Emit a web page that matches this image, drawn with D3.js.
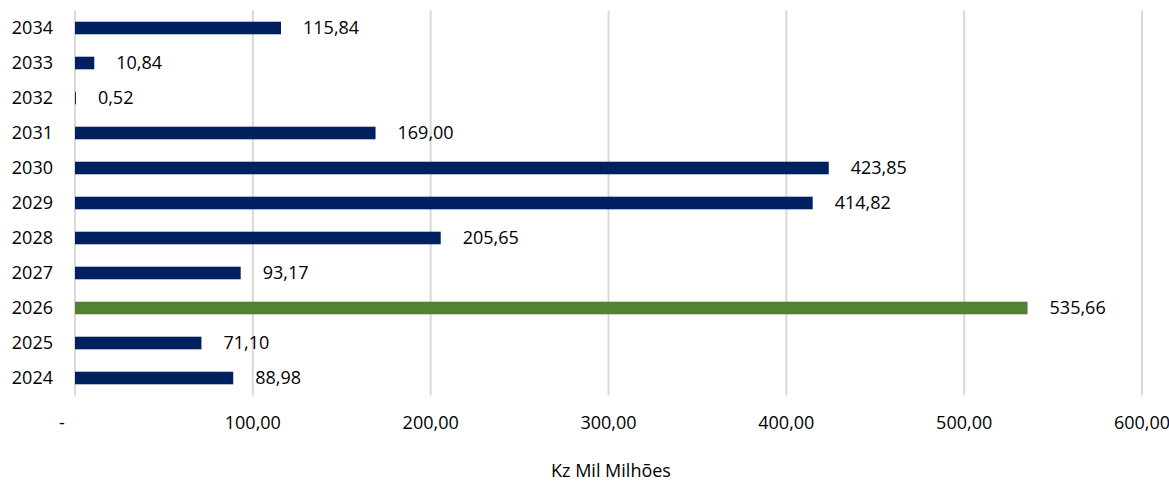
<!DOCTYPE html>
<html>
<head>
<meta charset="utf-8">
<script src="https://cdn.jsdelivr.net/npm/d3@7"></script>
<style>
  html, body { margin: 0; padding: 0; background: #fff; }
  svg text { font-family: "Open Sans", "Noto Sans", sans-serif; fill: #000; }
</style>
</head>
<body>
<svg id="chart" width="1169" height="482"></svg>
<script>
// Annual amounts (Kz Mil Milhões), top row first
const years = ["2034", "2033", "2032", "2031", "2030", "2029", "2028", "2027", "2026", "2025", "2024"];
const values = [115.84, 10.84, 0.52, 169.00, 423.85, 414.82, 205.65, 93.17, 535.66, 71.10, 88.98];
const highlightYear = "2026";
const tickValues = [0, 100, 200, 300, 400, 500, 600];
const tickLabels = ["-", "100,00", "200,00", "300,00", "400,00", "500,00", "600,00"];
const axisTitle = "Kz Mil Milhões";

const navy = "#002060";
const green = "#548235";
const gridColor = "#d9d9d9";
const fontSize = 18;

const svg = d3.select("#chart");

const x = d3.scaleLinear().domain([0, 600]).range([75, 1142]);
const y = d3.scaleBand().domain(years).range([10.5, 395.5])
  .paddingInner(0.64).paddingOuter(0.32);

const fmt = v => v.toFixed(2).replace(".", ",");

// vertical gridlines, including the zero line
svg.append("g")
  .selectAll("line")
  .data(tickValues)
  .join("line")
  .attr("x1", d => x(d)).attr("x2", d => x(d))
  .attr("y1", 10.5).attr("y2", 395.5)
  .attr("stroke", gridColor)
  .attr("stroke-width", 2);

// x tick labels
svg.append("g")
  .selectAll("text")
  .data(tickValues)
  .join("text")
  .attr("x", d => x(d))
  .attr("dx", (d, i) => i === 0 ? -13 : 0)
  .attr("y", 423)
  .attr("dy", "0.35em")
  .attr("text-anchor", "middle")
  .attr("font-size", fontSize)
  .text((d, i) => tickLabels[i]);

// year labels
svg.append("g")
  .selectAll("text")
  .data(years)
  .join("text")
  .attr("x", 53)
  .attr("y", d => y(d) + y.bandwidth() / 2)
  .attr("dy", "0.35em")
  .attr("text-anchor", "end")
  .attr("font-size", fontSize)
  .text(d => d);

const rows = years.map((yr, i) => ({ year: yr, value: values[i] }));

// bars
svg.append("g")
  .selectAll("rect")
  .data(rows)
  .join("rect")
  .attr("x", x(0))
  .attr("y", d => y(d.year))
  .attr("width", d => x(d.value) - x(0))
  .attr("height", y.bandwidth())
  .attr("fill", d => d.year === highlightYear ? green : navy);

// value labels
svg.append("g")
  .selectAll("text")
  .data(rows)
  .join("text")
  .attr("x", d => x(d.value) + 22)
  .attr("y", d => y(d.year) + y.bandwidth() / 2)
  .attr("dy", "0.35em")
  .attr("font-size", fontSize)
  .text(d => fmt(d.value));

// axis title
svg.append("text")
  .attr("x", 611)
  .attr("y", 471)
  .attr("dy", "0.35em")
  .attr("text-anchor", "middle")
  .attr("font-size", fontSize)
  .text(axisTitle);
</script>
</body>
</html>
